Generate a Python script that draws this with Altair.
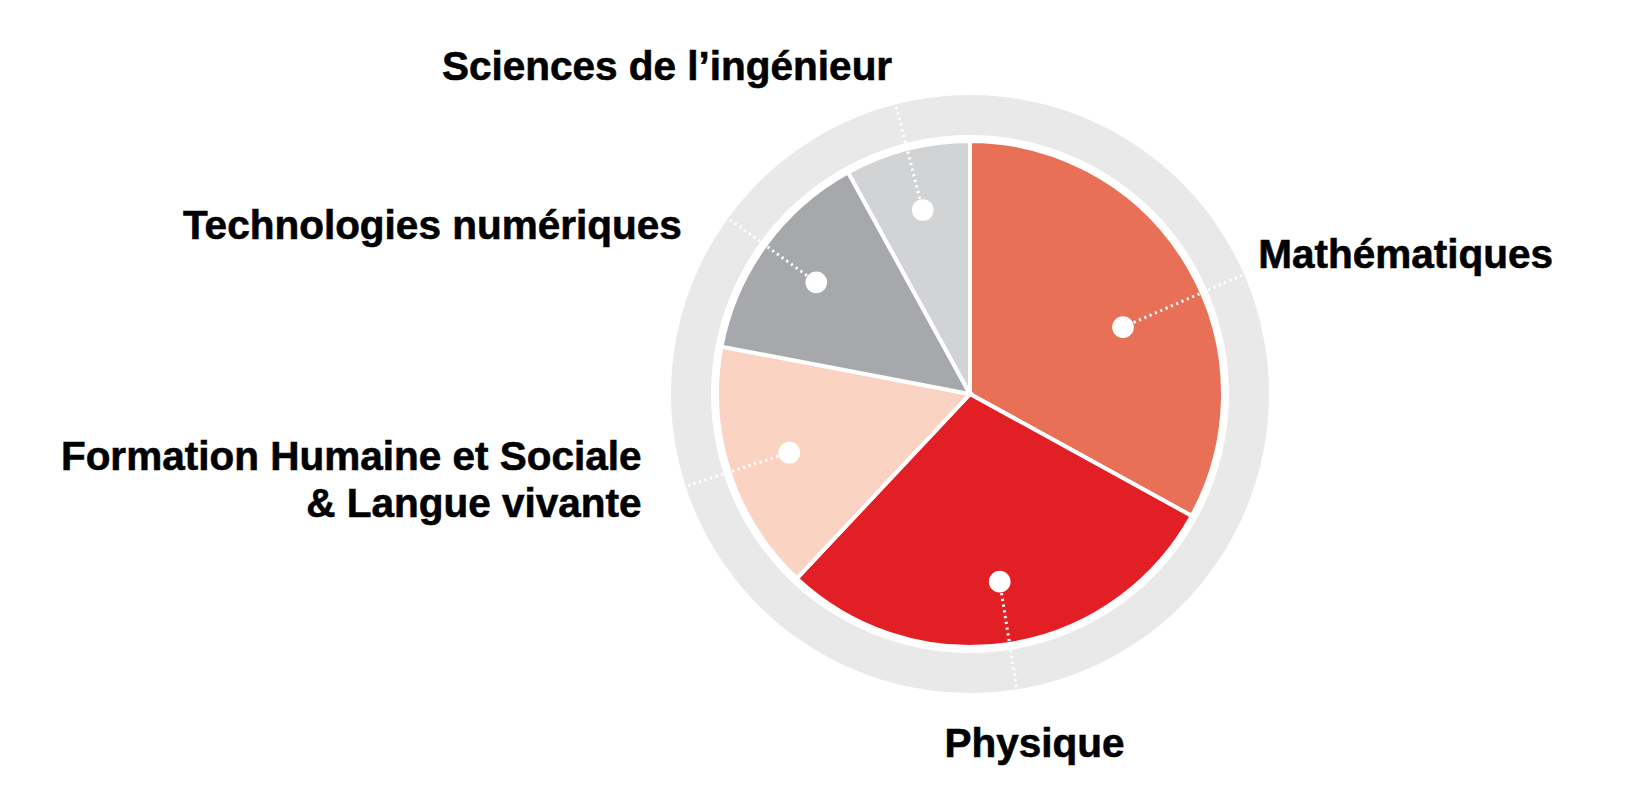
import altair as alt
import pandas as pd

categories = ["Mathématiques", "Physique", "Formation Humaine et Sociale & Langue vivante",
              "Technologies numériques", "Sciences de l’ingénieur"]
labels = ["Mathématiques", "Physique", "Formation Humaine et Sociale\n& Langue vivante",
          "Technologies numériques", "Sciences de l’ingénieur"]
values = [33, 29, 16, 14, 8]
colors = ["#E87056", "#E31F26", "#FBD3C3", "#A7A8AB", "#D2D3D5"]

df = pd.DataFrame({
    "category": categories,
    "label": labels,
    "value": values,
    "idx": list(range(len(categories))),
})

R_PIE = 253
R_RING_IN = 259
R_RING_OUT = 299
R_LEAD = 297

FONT = "Liberation Sans"

base = alt.Chart(df)

ring = alt.Chart(pd.DataFrame({"ring": [1]})).mark_arc(
    radius=R_RING_OUT, radius2=R_RING_IN, theta=0, theta2=6.2832
).encode(color=alt.value("#E9E9E9"))

pie = base.mark_arc(radius=R_PIE, stroke="white", strokeWidth=4).encode(
    theta=alt.Theta("value:Q", stack=True),
    order=alt.Order("idx:Q", sort="ascending"),
    color=alt.Color("category:N", scale=alt.Scale(domain=categories, range=colors), legend=None),
)

# label anchor placement (style): the Mathématiques marker sits a little off its slice centre
geo = base.transform_joinaggregate(
    total="sum(value)"
).transform_window(
    cum="sum(value)", sort=[alt.SortField("idx", order="ascending")], frame=[None, 0]
).transform_calculate(
    nudge="datum.category == 'Mathématiques' ? 7 : 0",
    rdot="datum.category == 'Mathématiques' ? 167 : 190",
).transform_calculate(
    mid="(datum.cum - datum.value / 2) / datum.total * 2 * PI + datum.nudge * PI / 180"
).transform_calculate(
    dx1="datum.rdot * sin(datum.mid)",
    dy1="datum.rdot * cos(datum.mid)",
    dx2=f"{R_LEAD} * sin(datum.mid)",
    dy2=f"{R_LEAD} * cos(datum.mid)",
)

xs = alt.Scale(domain=[-300, 300], nice=False, zero=False)
ys = alt.Scale(domain=[-300, 300], nice=False, zero=False)

leaders = geo.mark_rule(color="white", strokeWidth=3, strokeDash=[2.2, 3.6]).encode(
    x=alt.X("dx1:Q", scale=xs, axis=None),
    y=alt.Y("dy1:Q", scale=ys, axis=None),
    x2="dx2:Q",
    y2="dy2:Q",
)

dots = geo.mark_circle(size=470, color="white", opacity=1).encode(
    x=alt.X("dx1:Q", scale=xs, axis=None),
    y=alt.Y("dy1:Q", scale=ys, axis=None),
)

label_style = {
    "Mathématiques": dict(align="left", dx=16, dy=-7),
    "Physique": dict(align="center", dx=18, dy=70),
    "Formation Humaine et Sociale & Langue vivante": dict(align="right", dx=-46, dy=-16),
    "Technologies numériques": dict(align="right", dx=-48, dy=20),
    "Sciences de l’ingénieur": dict(align="right", dx=-4, dy=-26),
}

texts = []
for cat in categories:
    st = label_style[cat]
    t = geo.transform_filter(alt.datum.category == cat).mark_text(
        font=FONT, fontWeight="bold", fontSize=40.5, color="black",
        stroke="black", strokeWidth=0.6,
        baseline="alphabetic", lineBreak="\n", lineHeight=47, **st
    ).encode(
        x=alt.X("dx2:Q", scale=xs, axis=None),
        y=alt.Y("dy2:Q", scale=ys, axis=None),
        text="label:N",
    )
    texts.append(t)

chart = alt.layer(ring, pie, leaders, dots, *texts).properties(
    width=600,
    height=600,
    padding={"left": 662, "top": 86, "right": 353, "bottom": 108},
    autosize=alt.AutoSizeParams(type="none"),
    background="white",
).configure_view(stroke=None)

chart.save("out.html", embed_options={"renderer": "svg", "actions": False})
